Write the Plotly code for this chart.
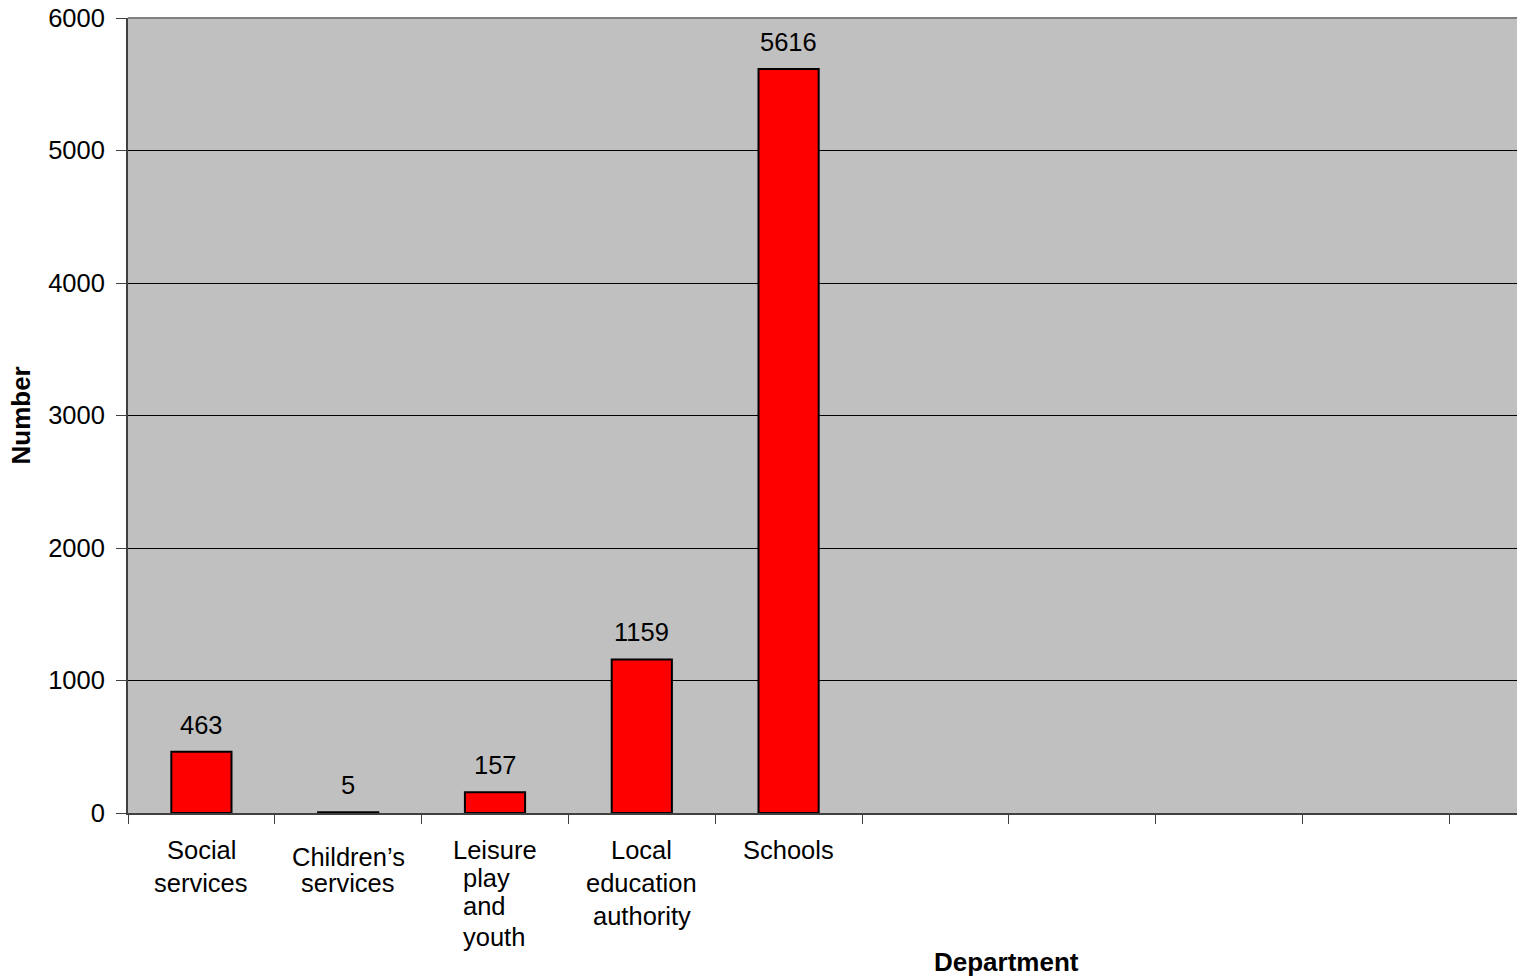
import plotly.graph_objects as go

# ---- data ----
categories = ["Social services", "Children’s services", "Leisure play and youth",
              "Local education authority", "Schools"]
label_lines = [["Social", "services"],
               ["Children’s", "services"],
               ["Leisure", "play", "and", "youth"],
               ["Local", "education", "authority"],
               ["Schools"]]
values = [463, 5, 157, 1159, 5616]
y_ticks = [0, 1000, 2000, 3000, 4000, 5000, 6000]
n_slots = 10  # category slots on the axis (only 5 used)

# ---- layout geometry (pixels) ----
W, H = 1517, 980
L, T, R, B = 128, 18, 0, 167
PW, PH = W - L - R, H - T - B
FONT = "Liberation Sans, Arial, Helvetica, sans-serif"
FS = 25.5

# vertical centre (px) of each label line, and horizontal offset of the line
line_y = [[850, 883], [857, 883], [850, 878, 906, 937], [850, 883, 916], [850]]
line_dx = [[0, 0], [0, 0], [0, None, None, None], [0, 0, 0], [0]]


def px_x(px):
    return (px - L) / PW


def px_y(py):
    return (H - B - py) / PH


slot_px = 146.8
x_max = -0.5 + PW / slot_px

fig = go.Figure()
fig.add_trace(go.Bar(
    x=list(range(len(values))), y=values, width=0.41,
    marker=dict(color="#FF0000", line=dict(color="#000000", width=2)),
    hoverinfo="x+y", showlegend=False,
))

annotations = []
for i, v in enumerate(values):
    annotations.append(dict(x=i, y=v, xref="x", yref="y", text=str(v),
                            showarrow=False, yanchor="bottom", yshift=11,
                            font=dict(family=FONT, size=FS, color="black")))

for i, lines in enumerate(label_lines):
    for j, txt in enumerate(lines):
        dx = line_dx[i][j]
        a = dict(x=i, y=px_y(line_y[i][j]), xref="x", yref="paper", text=txt,
                 showarrow=False, yanchor="middle",
                 font=dict(family=FONT, size=FS, color="black"))
        if dx is None:
            a.update(xanchor="left", xshift=-34)
        else:
            a.update(xanchor="center", xshift=dx)
        annotations.append(a)

annotations.append(dict(x=px_x(1007), y=px_y(962), xref="paper", yref="paper",
                        text="<b>Department</b>", showarrow=False,
                        yanchor="middle", xanchor="center",
                        font=dict(family=FONT, size=26, color="black")))
annotations.append(dict(x=px_x(20), y=0.5, xref="paper", yref="paper",
                        text="<b>Number</b>", showarrow=False, textangle=-90,
                        yanchor="middle", xanchor="center",
                        font=dict(family=FONT, size=26, color="black")))

fig.update_layout(
    width=W, height=H,
    margin=dict(l=L, r=R, t=T, b=B, pad=0),
    paper_bgcolor="white", plot_bgcolor="#C0C0C0",
    annotations=annotations,
    shapes=[dict(type="line", xref="paper", yref="paper", x0=0, x1=1, y0=1, y1=1,
                 line=dict(color="#808080", width=2), layer="above")],
    font=dict(family=FONT, size=FS, color="black"),
)
fig.update_xaxes(
    type="linear", range=[-0.5, x_max],
    tickvals=[k - 0.5 for k in range(n_slots)], ticktext=[""] * n_slots,
    ticks="outside", ticklen=9, tickwidth=1, tickcolor="#404040",
    showgrid=False, zeroline=False, showline=True, linecolor="#404040", linewidth=2,
)
fig.update_yaxes(
    range=[0, 6000], tickvals=y_ticks, ticktext=[str(t) for t in y_ticks],
    ticks="outside", ticklen=10, tickwidth=1, tickcolor="#404040",
    ticklabelstandoff=6,
    showgrid=True, gridcolor="#000000", gridwidth=1,
    zeroline=False, showline=True, linecolor="#404040", linewidth=2,
    tickfont=dict(family=FONT, size=FS, color="black"),
)

fig.write_html("out.html")
